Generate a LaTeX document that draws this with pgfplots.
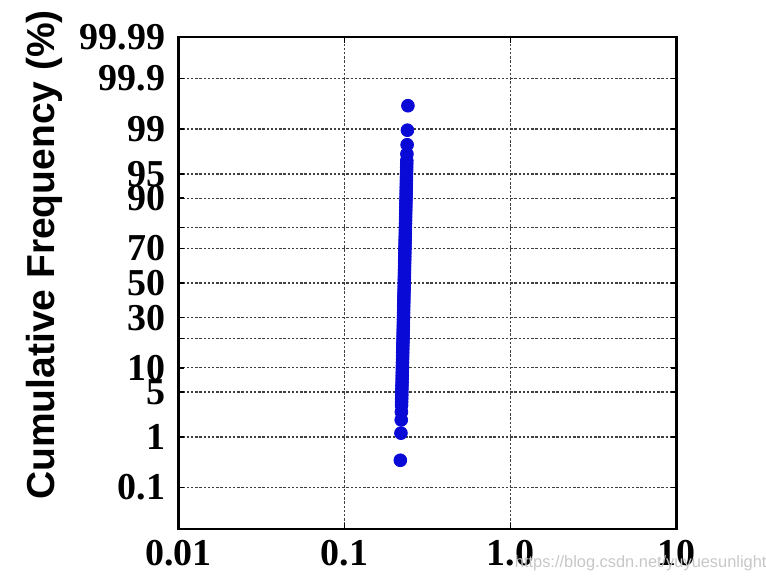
\documentclass[border=0pt]{standalone}
\usepackage{fontspec}
\setmainfont{Liberation Serif}
\setsansfont{Liberation Sans}
\usepackage{pgfplots}
\pgfplotsset{compat=1.18}

% probability scale: y holds the normal quantile z of the cumulative frequency
\pgfplotstableread{
x z
0.2169 -2.68
0.2188 -2.27
0.2197 -2.07
0.2202 -1.95
0.2207 -1.85
0.2209 -1.80
0.2211 -1.75
0.2214 -1.70
0.2216 -1.65
0.2218 -1.60
0.2220 -1.55
0.2223 -1.50
0.2225 -1.45
0.2227 -1.40
0.2229 -1.35
0.2232 -1.30
0.2234 -1.25
0.2236 -1.20
0.2238 -1.15
0.2241 -1.10
0.2243 -1.05
0.2245 -1.00
0.2247 -0.95
0.2250 -0.90
0.2252 -0.85
0.2254 -0.80
0.2256 -0.75
0.2259 -0.70
0.2261 -0.65
0.2263 -0.60
0.2265 -0.55
0.2268 -0.50
0.2270 -0.45
0.2272 -0.40
0.2274 -0.35
0.2277 -0.30
0.2279 -0.25
0.2281 -0.20
0.2283 -0.15
0.2286 -0.10
0.2288 -0.05
0.2290 0.00
0.2292 0.05
0.2295 0.10
0.2297 0.15
0.2299 0.20
0.2301 0.25
0.2304 0.30
0.2306 0.35
0.2308 0.40
0.2310 0.45
0.2313 0.50
0.2315 0.55
0.2317 0.60
0.2319 0.65
0.2322 0.70
0.2324 0.75
0.2326 0.80
0.2328 0.85
0.2331 0.90
0.2333 0.95
0.2335 1.00
0.2337 1.05
0.2340 1.10
0.2342 1.15
0.2344 1.20
0.2346 1.25
0.2349 1.30
0.2351 1.35
0.2353 1.40
0.2355 1.45
0.2358 1.50
0.2360 1.55
0.2362 1.60
0.2364 1.65
0.2367 1.70
0.2369 1.75
0.2371 1.80
0.2373 1.85
0.2378 1.95
0.2384 2.09
0.2394 2.31
0.2411 2.68
}\cumdata

\definecolor{dotblue}{RGB}{10,10,215}

\begin{document}
\begin{tikzpicture}
\begin{axis}[
    name=ax,
    scale only axis,
    width=249pt, height=246pt,
    xmode=log,
    xmin=0.01, xmax=10,
    ymin=-3.719, ymax=3.719,
    xtick={0.01,0.1,1,10},
    xticklabels={0.01,0.1,1.0,10},
    ytick={-3.090,-2.326,-1.645,-1.2816,-0.8416,-0.5244,0,0.5244,0.8416,1.2816,1.645,2.326,3.090,3.719},
    yticklabels={0.1,1,5,10,,30,50,70,,90,95,99,99.9,99.99},
    minor tick num=0,
    xminorticks=false,
    tick align=inside,
    major tick length=3pt,
    tick style={black, line width=0.8pt},
    grid=major,
    major grid style={black!75, line width=0.7pt, dash pattern=on 1.2pt off 0.9pt},
    axis line style={black, line width=1.3pt},
    tick label style={font=\fontsize{19}{19}\selectfont\bfseries},
    /pgf/number format/assume math mode=true,
    yticklabel style={xshift=-3pt},
    xticklabel style={yshift=-2pt},
    ylabel={Cumulative Frequency (\%)},
    ylabel style={at={(ticklabel cs:0.557)}, font=\sffamily\bfseries\fontsize{19.5}{20}\selectfont, yshift=2pt},
]
\addplot[only marks, mark=*, mark size=3.2pt, color=dotblue, mark options={draw=dotblue, fill=dotblue}]
    table[x=x, y=z] {\cumdata};
\end{axis}
\node[anchor=base west, font=\sffamily\fontsize{8.2}{9}\selectfont, text=black!22, inner sep=0pt]
    at ([shift={(168pt,-19.5pt)}]ax.south west) {https://blog.csdn.net/yuyuesunlight};
\pgfresetboundingbox
\path ([shift={(-89.25pt,-26.5pt)}]ax.south west) rectangle ([shift={(293.75pt,264.5pt)}]ax.south west);
\end{tikzpicture}
\end{document}
